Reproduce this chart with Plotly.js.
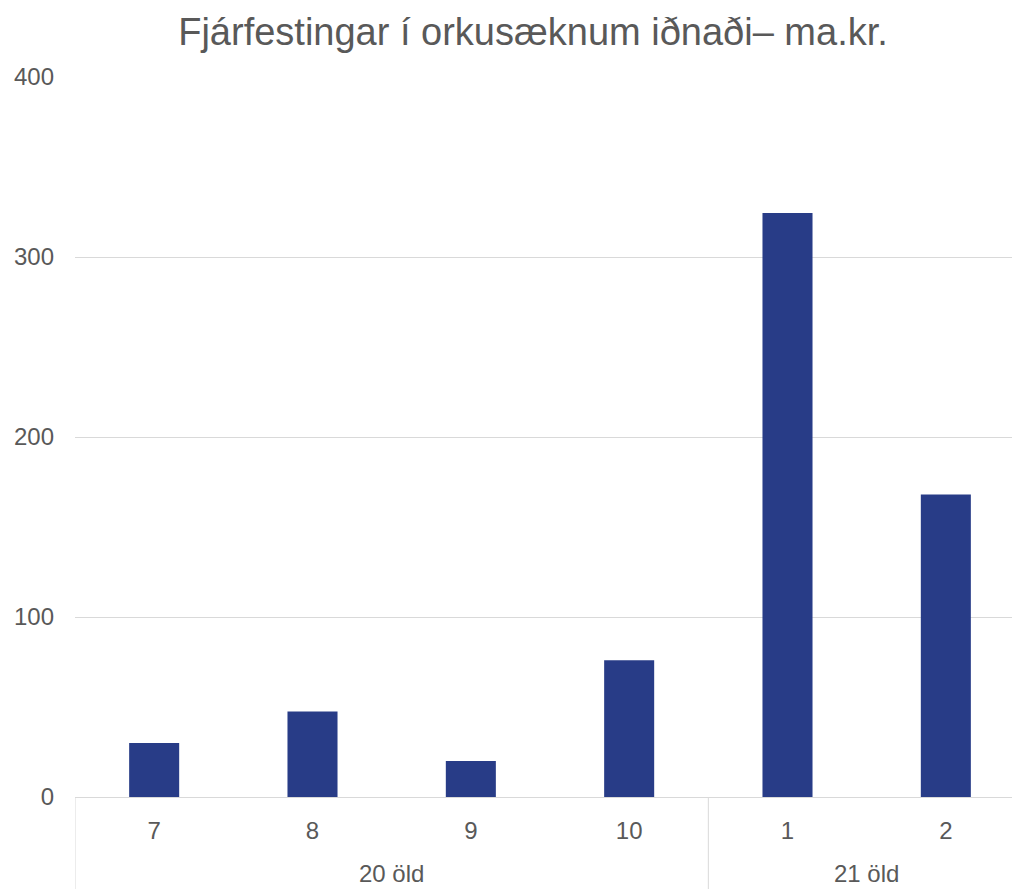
<!DOCTYPE html>
<html>
<head>
<meta charset="utf-8">
<script src="https://cdn.plot.ly/plotly-3.0.1.min.js"></script>
<style>
html, body { margin:0; padding:0; overflow:hidden; background:#fff; }
#chart { width:1025px; height:889px; }
</style>
</head>
<body>
<div id="chart"></div>
<script>
const centuries = ['20 öld','20 öld','20 öld','20 öld','21 öld','21 öld'];
const decades = ['7','8','9','10','1','2'];
const values = [30, 47.5, 20, 76, 324.5, 168];
const yTicks = [0, 100, 200, 300, 400];

const textColor = '#595959';
const gridColor = '#d9d9d9';
const font = 'Liberation Sans, Arial, sans-serif';

// plot area geometry (pixels)
const W = 1025, H = 889, mL = 75, mR = 0, mT = 77, mB = 92;
const plotH = H - mT - mB;

const trace = {
  type: 'bar',
  x: decades,
  y: values,
  marker: { color: '#283C87' },
  hoverinfo: 'skip'
};

// group labels and dividers derived from the centuries array
const groups = [];
centuries.forEach((c, i) => {
  if (!groups.length || groups[groups.length - 1].name !== c) groups.push({ name: c, start: i, end: i });
  else groups[groups.length - 1].end = i;
});

const annotations = groups.map(g => ({
  xref: 'x', yref: 'paper',
  x: (g.start + g.end) / 2,
  y: -(mB - 1) / plotH,
  yanchor: 'bottom', xanchor: 'center',
  borderpad: 0,
  text: g.name, showarrow: false,
  font: { family: font, size: 24, color: textColor }
}));

const boundaries = [-0.5].concat(groups.map(g => g.end + 0.5));
const shapes = boundaries.map(b => ({
  type: 'line', xref: 'x', yref: 'paper',
  x0: b, x1: b, y0: 0, y1: -mB / plotH,
  line: { color: gridColor, width: 1 }
}));

const layout = {
  width: W,
  height: H,
  margin: { l: mL, r: mR, t: mT, b: mB },
  paper_bgcolor: '#fff',
  plot_bgcolor: '#fff',
  bargap: 0.684,
  showlegend: false,
  font: { family: font, color: textColor, size: 24 },
  title: {
    text: 'Fjárfestingar í orkusæknum iðnaði– ma.kr.',
    font: { family: font, size: 38, color: textColor },
    xref: 'container', x: 533 / W, xanchor: 'center',
    yref: 'container', y: 1 - 32 / H, yanchor: 'middle'
  },
  xaxis: {
    type: 'category',
    range: [-0.5, decades.length - 0.5],
    showline: true, linecolor: gridColor, linewidth: 1,
    showgrid: false, ticks: '', zeroline: false,
    ticklabelstandoff: 12,
    tickfont: { family: font, size: 24, color: textColor }
  },
  yaxis: {
    range: [0, 400],
    tickvals: yTicks,
    ticktext: yTicks.map(String),
    showgrid: true, gridcolor: gridColor, gridwidth: 1,
    zeroline: false, showline: false, ticks: '',
    ticklabelstandoff: 20,
    tickfont: { family: font, size: 24, color: textColor }
  },
  annotations: annotations,
  shapes: shapes
};

Plotly.newPlot('chart', [trace], layout, { displayModeBar: false, staticPlot: true });
</script>
</body>
</html>
